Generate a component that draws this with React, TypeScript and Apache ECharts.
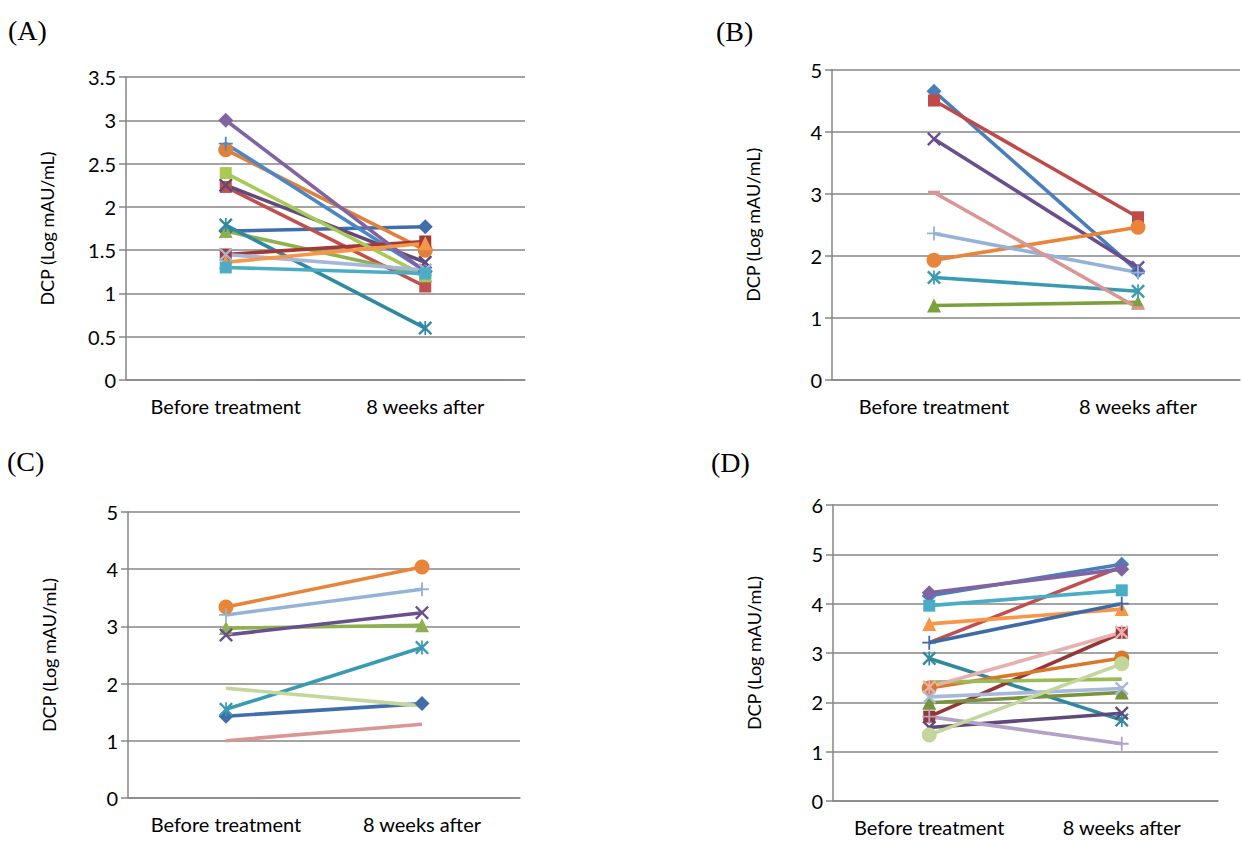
import React, { useEffect, useRef } from "react";
import * as echarts from "echarts";

const categories = ["Before treatment", "8 weeks after"];
const yAxisName = "DCP (Log mAU/mL)";
const panelLabels = ["(A)", "(B)", "(C)", "(D)"];

// Panel A
const valuesA = [
  [1.72, 1.77],
  [2.23, 1.08],
  [1.72, 1.21],
  [2.25, 1.36],
  [1.79, 0.6],
  [2.66, 1.5],
  [2.73, 1.26],
  [1.45, 1.6],
  [2.39, 1.2],
  [3.0, 1.25],
  [1.45, 1.27],
  [1.36, 1.58],
  [1.3, 1.23],
];
const colorsA = ["#3F6EAA", "#C0504D", "#8FB04F", "#604A7B", "#31899F", "#E0803A", "#4A86C8", "#A03A37", "#A9C957", "#8064A2", "#A7B6D8", "#F79646", "#4BACC6"];
const markersA = ["diamond", "square", "triangle", "x", "star", "circle", "plus", "square", "square", "diamond", "x", "triangle", "square"];

// Panel B
const valuesB = [
  [4.65, 1.75],
  [4.5, 2.62],
  [1.2, 1.25],
  [3.88, 1.81],
  [1.65, 1.43],
  [1.93, 2.46],
  [2.36, 1.73],
  [3.02, 1.16],
];
const colorsB = ["#4A7EBB", "#BE4B48", "#7BA13F", "#6A4F8E", "#3A9AB2", "#E8853A", "#95B3D7", "#D99694"];
const markersB = ["diamond", "square", "triangle", "x", "star", "circle", "plus", "dash"];

// Panel C
const valuesC = [
  [1.43, 1.65],
  [2.97, 3.02],
  [2.85, 3.24],
  [1.55, 2.63],
  [3.34, 4.04],
  [3.2, 3.65],
  [1.0, 1.29],
  [1.92, 1.61],
];
const colorsC = ["#3F6EAA", "#8FB04F", "#6A4F8E", "#3A9AB2", "#E8853A", "#95B3D7", "#D99694", "#C3D69B"];
const markersC = ["diamond", "triangle", "x", "star", "circle", "plus", "none", "none"];

// Panel D
const valuesD = [
  [4.16, 4.8],
  [3.21, 4.75],
  [3.96, 4.27],
  [3.59, 3.89],
  [3.21, 4.0],
  [2.89, 1.64],
  [1.71, 3.41],
  [2.29, 2.9],
  [2.41, 2.47],
  [1.99, 2.2],
  [2.11, 2.28],
  [1.49, 1.78],
  [1.71, 1.16],
  [1.34, 2.78],
  [2.31, 3.42],
  [4.22, 4.7],
];
const colorsD = ["#4A7EBB", "#C0504D", "#4BACC6", "#F79646", "#3E6BA8", "#31899F", "#953735", "#D9772B", "#9BBB59", "#77933C", "#A7B9DA", "#5F497A", "#B3A2C7", "#C3D69B", "#E6B0AE", "#8064A2"];
const markersD = ["diamond", "none", "square", "triangle", "plus", "star", "square", "circle", "none", "triangle", "x", "x", "plus", "circle", "star", "diamond"];

const X_PATH = "path://M0,1.2L1.2,0L5,3.8L8.8,0L10,1.2L6.2,5L10,8.8L8.8,10L5,6.2L1.2,10L0,8.8L3.8,5Z";
const STAR_PATH = "path://M0,1.2L1.2,0L5,3.8L8.8,0L10,1.2L6.2,5L10,8.8L8.8,10L5,6.2L1.2,10L0,8.8L3.8,5Z M4.4,0L5.6,0L5.6,10L4.4,10Z";
const PLUS_PATH = "path://M4.35,0L5.65,0L5.65,4.35L10,4.35L10,5.65L5.65,5.65L5.65,10L4.35,10L4.35,5.65L0,5.65L0,4.35L4.35,4.35Z";
const DASH_PATH = "path://M0,0L10,0L10,3L0,3Z";

function symbolFor(m: string): { symbol: string; size: number | number[] } {
  switch (m) {
    case "diamond": return { symbol: "diamond", size: 15 };
    case "square": return { symbol: "rect", size: 12 };
    case "triangle": return { symbol: "triangle", size: 14 };
    case "circle": return { symbol: "circle", size: 15 };
    case "x": return { symbol: X_PATH, size: 14 };
    case "star": return { symbol: STAR_PATH, size: 14 };
    case "plus": return { symbol: PLUS_PATH, size: 14 };
    case "dash": return { symbol: DASH_PATH, size: [12, 3.5] };
    default: return { symbol: "none", size: 0 };
  }
}

const GRAY = "#868686";
const FONT = "Lato";

const grids = [
  { left: 126, top: 77, width: 399, height: 303 },
  { left: 832, top: 69.5, width: 408, height: 310.5 },
  { left: 128, top: 512, width: 392, height: 286 },
  { left: 833, top: 505, width: 385, height: 296 },
];
const yMax = [3.5, 5, 5, 6];
const yInterval = [0.5, 1, 1, 1];
const labelPos = [
  { x: 8, y: 30 },
  { x: 716, y: 31 },
  { x: 7, y: 461 },
  { x: 711, y: 462 },
];

export default function App() {
  const ref = useRef<HTMLDivElement>(null);
  useEffect(() => {
    if (!ref.current) return;
    const chart = echarts.init(ref.current, undefined, { renderer: "svg" });
    const panels = [
      { values: valuesA, colors: colorsA, markers: markersA },
      { values: valuesB, colors: colorsB, markers: markersB },
      { values: valuesC, colors: colorsC, markers: markersC },
      { values: valuesD, colors: colorsD, markers: markersD },
    ];
    const series: any[] = [];
    panels.forEach((p, gi) => {
      p.values.forEach((vals, si) => {
        const s = symbolFor(p.markers[si]);
        series.push({
          type: "line",
          xAxisIndex: gi,
          yAxisIndex: gi,
          data: vals,
          symbol: s.symbol,
          symbolSize: s.size,
          showAllSymbol: true,
          lineStyle: { color: p.colors[si], width: 3.6 },
          itemStyle: { color: p.colors[si], borderWidth: 0 },
          emphasis: { disabled: true },
        });
      });
    });
    chart.setOption({
      animation: false,
      backgroundColor: "#ffffff",
      grid: grids.map((g) => ({ ...g, containLabel: false })),
      xAxis: grids.map((_, i) => ({
        type: "category",
        gridIndex: i,
        data: categories,
        boundaryGap: true,
        axisLine: { show: true, lineStyle: { color: GRAY, width: 1.5 } },
        axisTick: { show: false },
        axisLabel: { color: "#000", fontFamily: FONT, fontSize: 20, margin: 16, interval: 0, hideOverlap: false },
        splitLine: { show: false },
      })),
      yAxis: grids.map((_, i) => ({
        type: "value",
        gridIndex: i,
        min: 0,
        max: yMax[i],
        interval: yInterval[i],
        name: yAxisName,
        nameLocation: "middle",
        nameGap: 70,
        nameTextStyle: { color: "#000", fontFamily: FONT, fontSize: 18 },
        axisLine: { show: true, lineStyle: { color: GRAY, width: 1.5 } },
        axisTick: { show: true, length: 7, inside: false, lineStyle: { color: GRAY, width: 1.5 } },
        axisLabel: { color: "#000", fontFamily: FONT, fontSize: 20, margin: 10 },
        splitLine: { show: true, lineStyle: { color: GRAY, width: 1.5 } },
      })),
      graphic: panelLabels.map((t, i) => ({
        type: "text",
        x: labelPos[i].x,
        y: labelPos[i].y,
        style: {
          text: t,
          fill: "#000",
          font: "28px 'Liberation Serif'",
          textVerticalAlign: "middle",
          textAlign: "left",
        },
      })),
      series,
    });
    return () => chart.dispose();
  }, []);
  return (
    <div
      ref={ref}
      style={{ position: "fixed", left: 0, top: 0, width: 1242, height: 841, background: "#fff" }}
    />
  );
}
